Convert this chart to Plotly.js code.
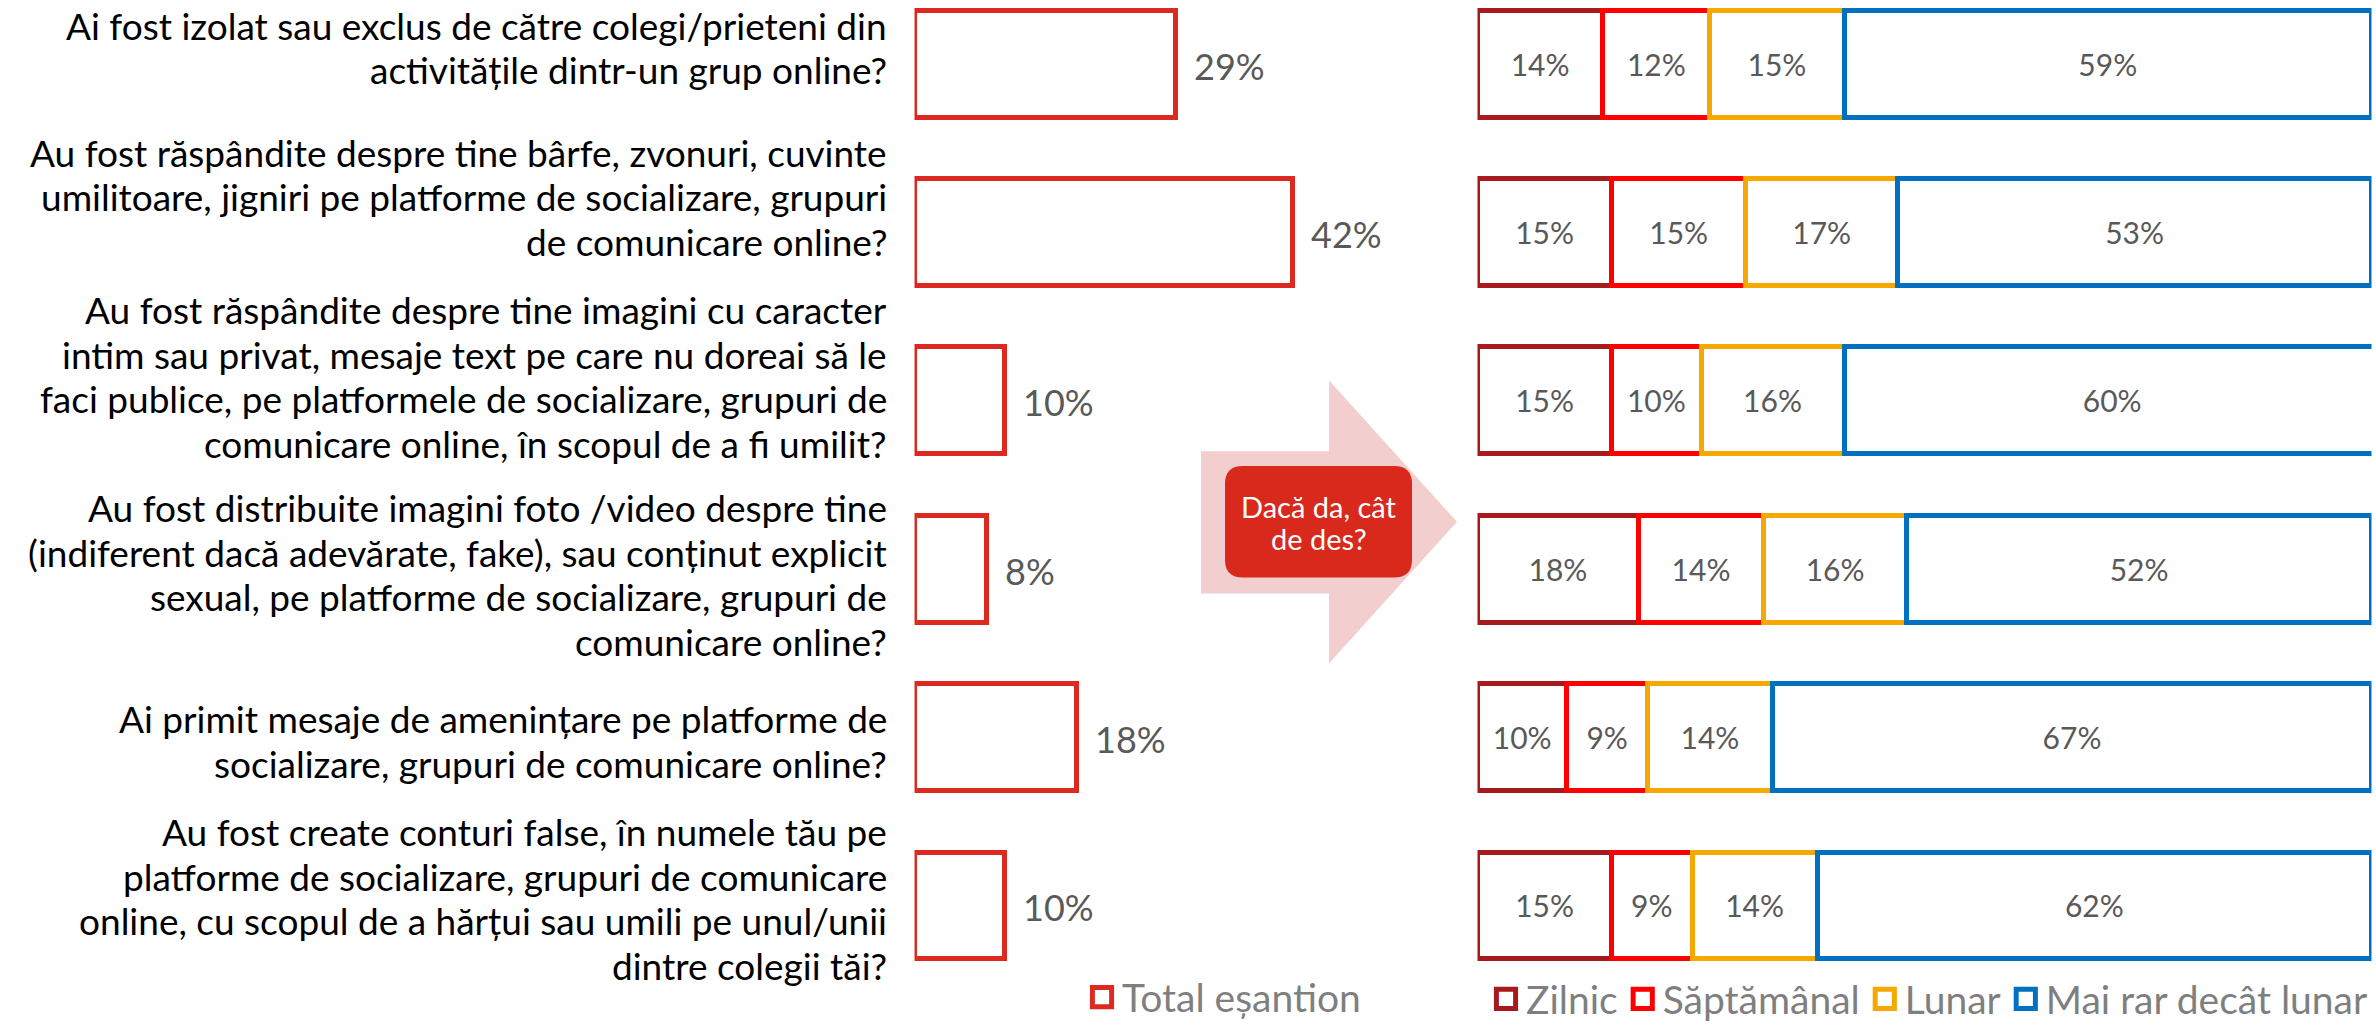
<!DOCTYPE html>
<html>
<head>
<meta charset="utf-8">
<script src="https://cdn.plot.ly/plotly-3.0.1.min.js"></script>
<style>
  html, body { margin: 0; padding: 0; background: #ffffff; }
  #chart { width: 2376px; height: 1031px; }
</style>
</head>
<body>
<div id="chart"></div>
<script>
// ---------- DATA ----------
const questions = [
  "Ai fost izolat sau exclus de către colegi/prieteni din<br>activitățile dintr-un grup online?",
  "Au fost răspândite despre tine bârfe, zvonuri, cuvinte<br>umilitoare, jigniri pe platforme de socializare, grupuri<br>de comunicare online?",
  "Au fost răspândite despre tine imagini cu caracter<br>intim sau privat, mesaje text pe care nu doreai să le<br>faci publice, pe platformele de socializare, grupuri de<br>comunicare online, în scopul de a fi umilit?",
  "Au fost distribuite imagini foto /video despre tine<br>(indiferent dacă adevărate, fake), sau conținut explicit<br>sexual, pe platforme de socializare, grupuri de<br>comunicare online?",
  "Ai primit mesaje de amenințare pe platforme de<br>socializare, grupuri de comunicare online?",
  "Au fost create conturi false, în numele tău pe<br>platforme de socializare, grupuri de comunicare<br>online, cu scopul de a hărțui sau umili pe unul/unii<br>dintre colegii tăi?"
];
const totalEsantion = [29, 42, 10, 8, 18, 10];
const zilnic      = [14, 15, 15, 18, 10, 15];
const saptamanal  = [12, 15, 10, 14,  9,  9];
const lunar       = [15, 17, 16, 16, 14, 14];
const maiRar      = [59, 53, 60, 52, 67, 62];
const totalName = "Total eșantion";
const freqNames = ["Zilnic", "Săptămânal", "Lunar", "Mai rar decât lunar"];
const calloutLines = ["Dacă da, cât", "de des?"];

// ---------- STYLE / LAYOUT HELPERS ----------
const W = 2376, H = 1031;
const px = x => x / W;
const py = y => 1 - y / H;
const FONT = "Lato, 'Open Sans', sans-serif";
const freqColors = ["#A6191C", "#FF0000", "#F5A800", "#0070C0"];
const totalColor = "#DC2A20";
const labelGray = "#595959";
const legendGray = "#7F7F7F";
const QFONT = 37, QLINE = 44.5;
const labelOffset = [-21, -40, -29, 1, -1, -12]; // px, text block centre vs bar centre

const traces = [];
traces.push({
  type: "bar", orientation: "h", name: totalName,
  x: totalEsantion, y: questions,
  xaxis: "x", yaxis: "y",
  width: 0.634,
  marker: { color: "#ffffff", line: { color: totalColor, width: 5 } },
  textposition: "none",
  legend: "legend", hoverinfo: "skip"
});
const freqSeries = [zilnic, saptamanal, lunar, maiRar];
freqSeries.forEach((vals, i) => {
  traces.push({
    type: "bar", orientation: "h", name: freqNames[i],
    x: vals, y: questions,
    xaxis: "x2", yaxis: "y",
    width: 0.634,
    marker: { color: "#ffffff", line: { color: freqColors[i], width: 5 } },
    texttemplate: "%{x}%", textposition: "inside", insidetextanchor: "middle",
    textangle: 0, constraintext: "none",
    insidetextfont: { family: FONT, size: 30, color: labelGray },
    legend: "legend2", hoverinfo: "skip"
  });
});

const annotations = [];
questions.forEach((q, i) => {
  const lines = q.split("<br>");
  const n = lines.length;
  lines.forEach((line, j) => {
    const target = labelOffset[i] + (j - (n - 1) / 2) * QLINE;
    annotations.push({
      xref: "paper", yref: "y", x: px(889), y: q,
      xanchor: "right", yanchor: "middle", align: "right",
      text: line, showarrow: false, yshift: -target - 5,
      font: { family: FONT, size: QFONT, color: "#000000" }
    });
  });
  annotations.push({
    xref: "x", yref: "y", x: totalEsantion[i], y: q,
    xanchor: "left", yanchor: "middle", xshift: 16, yshift: -2,
    text: totalEsantion[i] + "%", showarrow: false,
    font: { family: FONT, size: 36, color: labelGray }
  });
});
annotations.push(
  { xref: "paper", yref: "paper", x: px(1318.5), y: py(513), xanchor: "center", yanchor: "middle",
    text: calloutLines[0], showarrow: false, font: { family: FONT, size: 29, color: "#ffffff" } },
  { xref: "paper", yref: "paper", x: px(1318.5), y: py(545), xanchor: "center", yanchor: "middle",
    text: calloutLines[1], showarrow: false, font: { family: FONT, size: 29, color: "#ffffff" } }
);

const arrowPath = `M ${px(1201)},${py(457)} L ${px(1329)},${py(457)} L ${px(1329)},${py(385)} ` +
  `L ${px(1457)},${py(528.5)} L ${px(1329)},${py(672)} L ${px(1329)},${py(601)} L ${px(1201)},${py(601)} Z`;
const rx0 = 1225, rx1 = 1412, ry0 = 472, ry1 = 585, r = 18;
const rectPath = `M ${px(rx0 + r)},${py(ry0)} L ${px(rx1 - r)},${py(ry0)} Q ${px(rx1)},${py(ry0)} ${px(rx1)},${py(ry0 + r)} ` +
  `L ${px(rx1)},${py(ry1 - r)} Q ${px(rx1)},${py(ry1)} ${px(rx1 - r)},${py(ry1)} ` +
  `L ${px(rx0 + r)},${py(ry1)} Q ${px(rx0)},${py(ry1)} ${px(rx0)},${py(ry1 - r)} ` +
  `L ${px(rx0)},${py(ry0 + r)} Q ${px(rx0)},${py(ry0)} ${px(rx0 + r)},${py(ry0)} Z`;

const layout = {
  width: W, height: H,
  margin: { l: 0, r: 0, t: 0, b: 0, pad: 0 },
  paper_bgcolor: "#ffffff", plot_bgcolor: "rgba(0,0,0,0)",
  font: { family: FONT },
  barmode: "stack",
  xaxis: { domain: [px(914.5), px(914.5 + 450)], range: [0, 50], visible: false, fixedrange: true },
  xaxis2: { domain: [px(1477.5), px(2371.5)], range: [0, 100], anchor: "y", visible: false, fixedrange: true },
  yaxis: { domain: [0, 1], type: "category", categoryorder: "array", categoryarray: questions,
           range: [5.669, -0.378], visible: false, fixedrange: true },
  showlegend: true,
  legend: { orientation: "h", x: px(1082), y: py(1010), xanchor: "left", yanchor: "middle",
            traceorder: "normal",
            bgcolor: "rgba(0,0,0,0)", font: { family: FONT, size: 39, color: legendGray } },
  legend2: { orientation: "h", x: px(1486), y: py(1012), xanchor: "left", yanchor: "middle",
             traceorder: "normal",
             bgcolor: "rgba(0,0,0,0)", font: { family: FONT, size: 39, color: legendGray } },
  shapes: [
    { type: "path", xref: "paper", yref: "paper", path: arrowPath, fillcolor: "#F2CFCE", line: { width: 0 }, layer: "below" },
    { type: "path", xref: "paper", yref: "paper", path: rectPath, fillcolor: "#D9291C", line: { width: 0 }, layer: "above" }
  ],
  annotations: annotations
};

Plotly.newPlot("chart", traces, layout, { displayModeBar: false, staticPlot: true }).then(() => {
  document.querySelectorAll("#chart .legendpoints path").forEach(p => {
    const t = p.getAttribute("transform") || "";
    p.setAttribute("transform", t + " scale(1.6)");
    p.style.strokeWidth = "3.1px";
  });
});
</script>
</body>
</html>
